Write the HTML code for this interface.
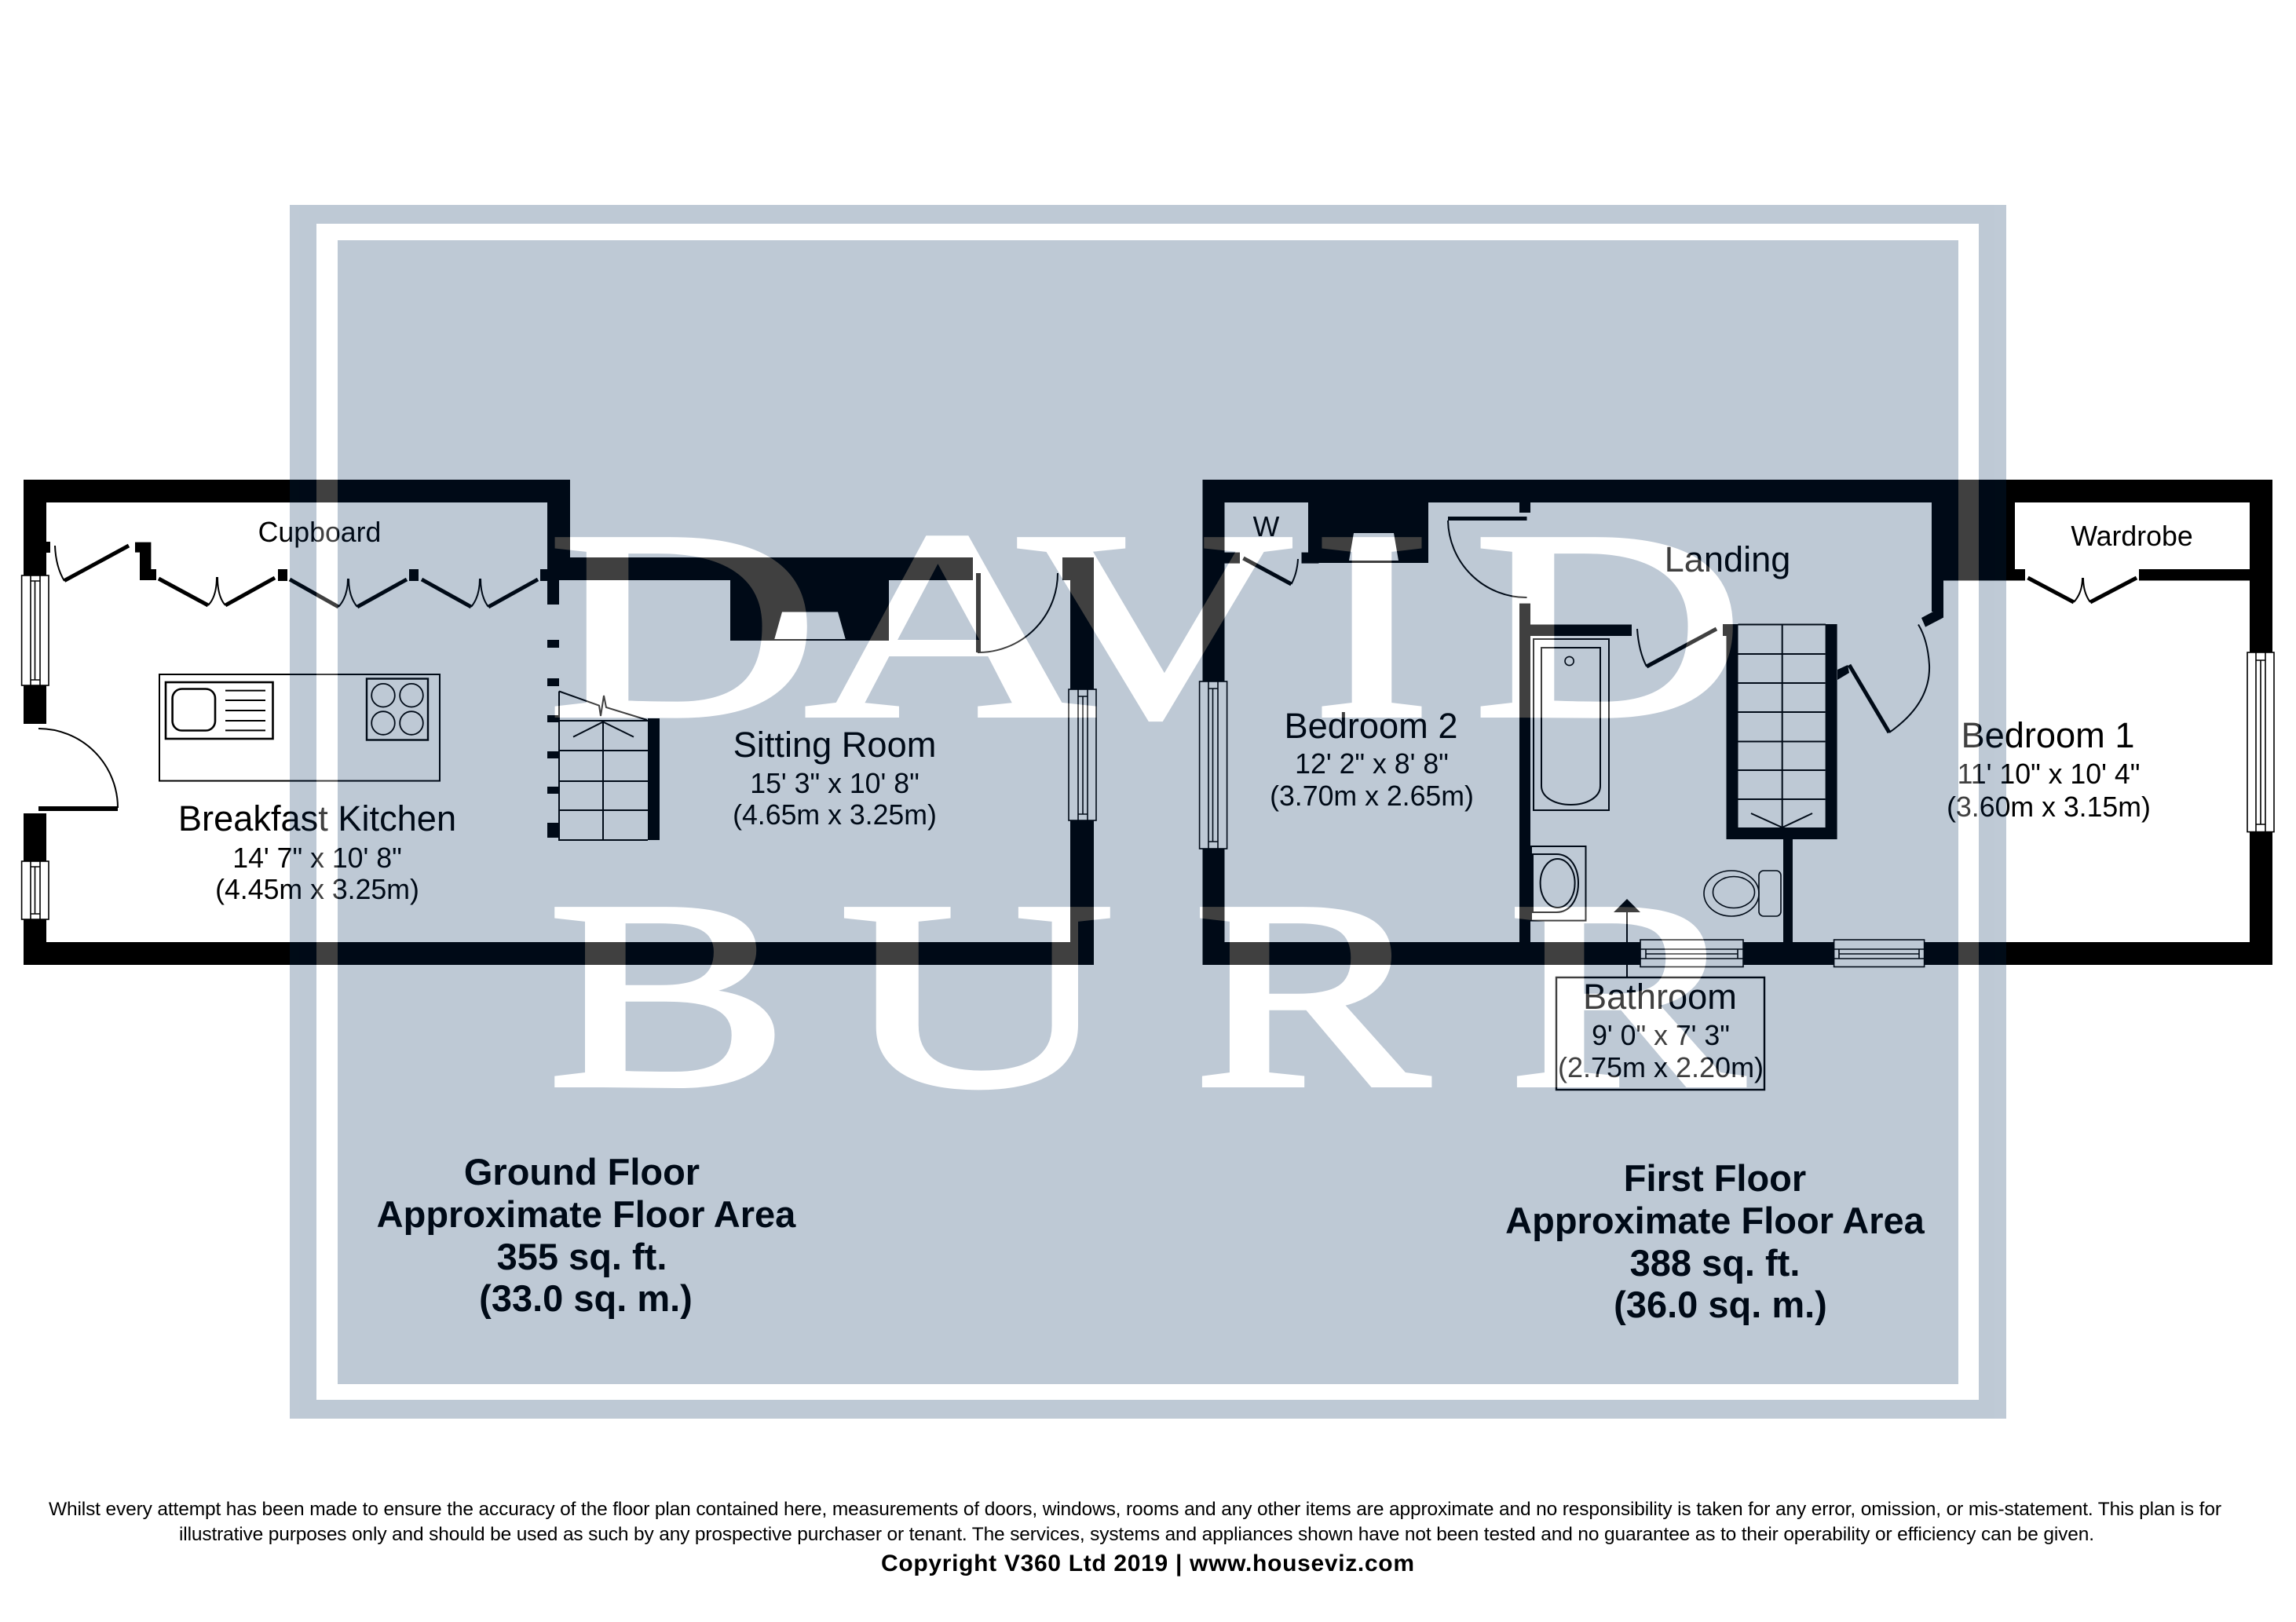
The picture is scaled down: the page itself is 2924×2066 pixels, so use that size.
<!DOCTYPE html>
<html><head><meta charset="utf-8"><title>Floor plan</title>
<style>
html,body{margin:0;padding:0;background:#fff}
svg{display:block}
text{font-family:"Liberation Sans",Arial,sans-serif;fill:#000}
.n{font-size:45.2px;text-anchor:middle}
.d{font-size:35.7px;text-anchor:middle}
.b{font-size:47px;font-weight:bold;text-anchor:middle}
.w{font-family:"Liberation Serif",serif;font-size:342px;fill:#fff;stroke:#fff;stroke-width:6}
.l{fill:none;stroke:#000;stroke-width:2}
.t{fill:none;stroke:#000;stroke-width:5}
.win{fill:#fff;stroke:#000;stroke-width:1.6}
.wl{fill:none;stroke:#000;stroke-width:1.6}
</style></head><body>
<svg xmlns="http://www.w3.org/2000/svg" width="2924" height="2066" viewBox="0 0 2924 2066">
<rect width="2924" height="2066" fill="#fff"/>

<!-- GROUND FLOOR WALLS -->
<g fill="#000">
<rect x="30" y="611" width="696" height="29"/>
<rect x="30" y="611" width="29" height="122"/>
<rect x="59" y="690" width="5" height="14"/>
<rect x="30" y="873" width="29" height="49"/>
<rect x="30" y="1036" width="29" height="193"/>
<rect x="30" y="1200" width="1363" height="29"/>
<rect x="1363" y="710" width="30" height="519"/>
<rect x="1353" y="710" width="15" height="29"/>
<rect x="697" y="611" width="29" height="128"/>
<rect x="697" y="710" width="542" height="29"/>
<rect x="688" y="725" width="24" height="15"/>
<rect x="697" y="725" width="15" height="45"/>
<rect x="697" y="815" width="15" height="10"/>
<rect x="697" y="864" width="15" height="10"/>
<rect x="697" y="911" width="15" height="9"/>
<rect x="697" y="957" width="15" height="9"/>
<rect x="697" y="1002" width="15" height="9"/>
<rect x="697" y="1048" width="15" height="19"/>
<rect x="930" y="739" width="202" height="77"/>
<rect x="825" y="915" width="15" height="155"/>
<polygon points="172,690.6 192.4,690.6 192.4,725 199,725 199,739 178,739 178,703.6 172,703.6"/>
<rect x="354" y="725" width="12" height="15"/>
<rect x="521" y="725" width="12" height="15"/>
</g>
<polygon points="996,779.5 1067,779.5 1077,815 986,815" fill="#fff"/>
<line x1="986" y1="815" x2="1077" y2="815" class="l"/>

<!-- ground: cupboard doors -->
<path class="t" d="M82 739.6L164 695"/>
<path class="l" d="M70 695Q71 722 82 740"/>
<path class="t" d="M202 737L265 771M287 771L350 736"/>
<path class="l" d="M265 771Q276 760 276 735M277 735Q277 760 287 771"/>
<path class="t" d="M369 738L431 773M455 773L518 738"/>
<path class="l" d="M431 773Q443 760 443 737M444 737Q444 760 455 773"/>
<path class="t" d="M537 738L600 773M622 773L685 738"/>
<path class="l" d="M600 773Q611 760 611 737M612 737Q612 760 622 773"/>

<!-- ground: windows -->
<g>
<rect class="win" x="27.6" y="733" width="34.4" height="140"/>
<path class="wl" d="M39 733V873M51 733V873M39 740H51M39 866H51M44.5 740V866"/>
<rect class="win" x="27.6" y="1097" width="34.4" height="74"/>
<path class="wl" d="M39 1097V1171M51 1097V1171M39 1104H51M39 1164H51M44.5 1104V1164"/>
<rect class="win" x="1361" y="878" width="35" height="167"/>
<path class="wl" d="M1373 878V1045M1385 878V1045M1373 887H1385M1373 1037H1385M1379 887V1037"/>
</g>

<!-- ground: doors -->
<rect x="49" y="1027" width="101" height="6"/>
<path class="l" d="M49 928A101 101 0 0 1 150 1029"/>
<rect x="1243" y="730" width="6" height="101"/>
<path class="l" d="M1245 831A101 101 0 0 0 1347 730"/>

<!-- ground: island -->
<rect x="203" y="859" width="357" height="135.6" class="l"/>
<rect x="211" y="869" width="136.5" height="72" fill="none" stroke="#000" stroke-width="2.6"/>
<rect x="219.6" y="877.5" width="54.4" height="53" rx="12" fill="none" stroke="#000" stroke-width="2.6"/>
<path class="l" d="M287 879.6H338M287 892H338M287 905H338M287 918H338M287 930.4H338"/>
<rect x="467" y="864.5" width="78" height="78" fill="none" stroke="#000" stroke-width="2.4"/>
<g fill="none" stroke="#000" stroke-width="1.8">
<circle cx="488" cy="885.7" r="14.8"/><circle cx="524" cy="885.7" r="14.8"/>
<circle cx="488" cy="921" r="14.8"/><circle cx="524" cy="921" r="14.8"/>
</g>

<!-- ground: stairs -->
<path class="l" d="M712 880.5V1070H825M712 918H825M712 956H825M712 995H825M712 1032H825M768 918V1070"/>
<path class="l" d="M712 880.5L763 898.7L765 912L769 886L772 901L824 917M730 938.6L768 919.5L807 938.6"/>

<!-- FIRST FLOOR WALLS -->
<g fill="#000">
<rect x="1531.5" y="611" width="1362.5" height="29"/>
<rect x="1531.5" y="611" width="28" height="618"/>
<rect x="1531.5" y="1200" width="1362.5" height="29"/>
<rect x="2865" y="611" width="29" height="618"/>
<rect x="1666" y="640" width="153" height="77"/>
<rect x="1559" y="703.6" width="20" height="14"/>
<rect x="1657.5" y="703.6" width="22" height="14"/>
<rect x="1935" y="640" width="14" height="13"/>
<rect x="1935" y="768.6" width="14" height="432"/>
<rect x="1935" y="795.5" width="143" height="14.5"/>
<rect x="2194" y="795" width="19.5" height="15"/>
<rect x="2198.5" y="795" width="15" height="274"/>
<rect x="2324.6" y="795" width="15" height="274"/>
<rect x="2198.5" y="1054" width="141" height="15"/>
<rect x="2271" y="1069" width="12" height="132"/>
<polygon points="2340,853 2353,847 2355,857 2340,866"/>
<rect x="2460" y="640" width="15" height="139"/>
<polygon points="2447,787 2475,772 2475,786.6 2452,798.6"/>
<rect x="2475" y="640" width="91" height="99.5"/>
<rect x="2475" y="725" width="104" height="14.5"/>
<rect x="2724" y="725" width="141" height="14.5"/>
<rect x="1844" y="658" width="100.5" height="5"/>
</g>
<polygon points="1724,679 1775,679 1781,714 1718,714" fill="#fff"/>
<line x1="1718" y1="715" x2="1781" y2="715" class="l"/>

<!-- first floor: doors -->
<path class="t" d="M1583.4 711L1644.5 744"/>
<path class="l" d="M1644.5 744Q1652 730 1653 712"/>
<path class="l" d="M1844 663A100 100 0 0 0 1944.5 761"/>
<path class="t" d="M2097 849L2186 801"/>
<path class="l" d="M2085 801Q2087 830 2097 849"/>
<path class="t" d="M2355 847L2406 933"/>
<path class="l" d="M2406 933Q2459 896 2457 847Q2455 815 2443 795.5"/>
<path class="t" d="M2582.5 736L2641 767M2662 767L2721 736"/>
<path class="l" d="M2641 767Q2652 755 2652 736M2653 736Q2653 755 2662 767"/>

<!-- first floor: stairs -->
<path class="l" d="M2213.5 833H2324.6M2213.5 870H2324.6M2213.5 907H2324.6M2213.5 944.5H2324.6M2213.5 981H2324.6M2213.5 1018H2324.6M2269.7 795V1054"/>
<path class="l" d="M2213.5 795.5H2325"/>
<path class="l" d="M2230 1036L2269.7 1054L2308 1036"/>

<!-- first floor: windows -->
<rect class="win" x="1527.6" y="868" width="35" height="213"/>
<path class="wl" d="M1539 868V1081M1551 868V1081M1539 877H1551M1539 1072H1551M1544.5 877V1072"/>
<rect class="win" x="2862" y="831" width="34" height="228.6"/>
<path class="wl" d="M2873 831V1059.6M2885 831V1059.6M2873 841H2885M2873 1050H2885M2879 841V1050"/>
<rect class="win" x="2089" y="1197" width="131" height="34.5"/>
<path class="wl" d="M2089 1209H2220M2089 1221H2220M2096 1209V1221M2213 1209V1221M2096 1215H2213"/>
<rect class="win" x="2335.6" y="1197" width="115" height="34.5"/>
<path class="wl" d="M2335.6 1209H2450.6M2335.6 1221H2450.6M2342 1209V1221M2444 1209V1221M2342 1215H2444"/>

<!-- first floor: bath, basin, toilet -->
<rect class="l" x="1953" y="814" width="96" height="218"/>
<path class="l" d="M1963 825H2038V1001C2038 1016 2020 1025 2000.5 1025C1981 1025 1963 1016 1963 1001Z"/>
<circle class="l" cx="1998.6" cy="842" r="5.6" style="stroke-width:1.6"/>
<rect class="l" x="1950" y="1078" width="69.5" height="94.6"/>
<path class="l" d="M1952 1088H1982C2000 1088 2010 1105 2010 1125C2010 1145 2000 1162 1982 1162H1952Z"/>
<ellipse class="l" cx="1983.6" cy="1125" rx="22" ry="31"/>
<ellipse class="l" cx="2205" cy="1138" rx="35" ry="29" style="stroke-width:1.6"/>
<ellipse class="l" cx="2208" cy="1136.5" rx="26.5" ry="20" style="stroke-width:1.6"/>
<rect class="l" x="2240" y="1109" width="28" height="58" rx="6" style="stroke-width:1.6"/>

<!-- bathroom callout -->
<polygon points="2072,1145 2089,1162 2055,1162" fill="#000"/>
<line x1="2072" y1="1160" x2="2072" y2="1245" class="l"/>
<rect x="1982" y="1245" width="265" height="143" class="l" style="stroke-width:2.4"/>

<!-- ROOM LABELS -->
<text class="d" x="407" y="690">Cupboard</text>
<text class="n" x="404" y="1058">Breakfast Kitchen</text>
<text class="d" x="404" y="1105">14' 7" x 10' 8"</text>
<text class="d" x="404" y="1145">(4.45m x 3.25m)</text>
<text class="n" x="1063" y="964">Sitting Room</text>
<text class="d" x="1063" y="1010">15' 3" x 10' 8"</text>
<text class="d" x="1063" y="1050">(4.65m x 3.25m)</text>
<text class="d" x="1612.5" y="683">W</text>
<text class="n" x="1746" y="940">Bedroom 2</text>
<text class="d" x="1747" y="985">12' 2" x 8' 8"</text>
<text class="d" x="1747" y="1026">(3.70m x 2.65m)</text>
<text class="n" x="2200" y="728">Landing</text>
<text class="d" x="2715" y="695">Wardrobe</text>
<text class="n" x="2608" y="952">Bedroom 1</text>
<text class="d" x="2609" y="998">11' 10" x 10' 4"</text>
<text class="d" x="2609" y="1040">(3.60m x 3.15m)</text>
<text class="n" x="2114" y="1285">Bathroom</text>
<text class="d" x="2115" y="1331">9' 0" x 7' 3"</text>
<text class="d" x="2115" y="1372" style="font-size:36px">(2.75m x 2.20m)</text>

<text class="b" x="741" y="1509">Ground Floor</text>
<text class="b" x="746.5" y="1563">Approximate Floor Area</text>
<text class="b" x="741" y="1617">355 sq. ft.</text>
<text class="b" x="746" y="1670">(33.0 sq. m.)</text>
<text class="b" x="2184" y="1517">First Floor</text>
<text class="b" x="2184" y="1571">Approximate Floor Area</text>
<text class="b" x="2184" y="1625">388 sq. ft.</text>
<text class="b" x="2191" y="1678">(36.0 sq. m.)</text>

<!-- WATERMARK OVERLAY -->
<g opacity="0.25">
<rect x="369" y="261" width="2186" height="1546" fill="#002b5b"/>
<path fill="#fff" fill-rule="evenodd" d="M403 285H2520V1783H403ZM430 306V1763H2494V306Z"/>
<text class="w" transform="translate(697 911) scale(1.4 1)">D</text>
<text class="w" transform="translate(1025 911) scale(1.5 1)">A</text>
<text class="w" transform="translate(1294 911) scale(1.43 1)">V</text>
<text class="w" transform="translate(1671 911) scale(1.33 1)">I</text>
<text class="w" transform="translate(1876 911) scale(1.4 1)">D</text>
<text class="w" transform="translate(697 1382) scale(1.35 1)">B</text>
<text class="w" transform="translate(1069 1382) scale(1.42 1)">U</text>
<text class="w" transform="translate(1519 1382) scale(1.32 1)">R</text>
<text class="w" transform="translate(1920 1382) scale(1.32 1)">R</text>
</g>

<!-- FOOTER -->
<text x="62" y="1930" font-size="24.5" textLength="2767" lengthAdjust="spacing">Whilst every attempt has been made to ensure the accuracy of the floor plan contained here, measurements of doors, windows, rooms and any other items are approximate and no responsibility is taken for any error, omission, or mis-statement. This plan is for</text>
<text x="228" y="1962" font-size="24.5" textLength="2439" lengthAdjust="spacing">illustrative purposes only and should be used as such by any prospective purchaser or tenant. The services, systems and appliances shown have not been tested and no guarantee as to their operability or efficiency can be given.</text>
<text x="1122" y="2001" font-size="30" font-weight="bold" textLength="679" lengthAdjust="spacing">Copyright V360 Ltd 2019 | www.houseviz.com</text>
</svg>
</body></html>
